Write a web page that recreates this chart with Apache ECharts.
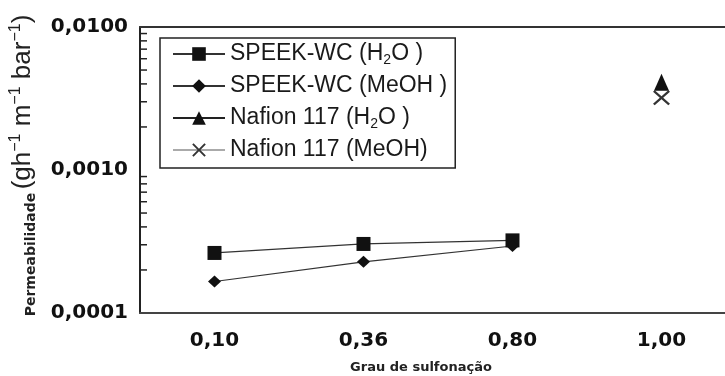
<!DOCTYPE html>
<html>
<head>
<meta charset="utf-8">
<script src="https://cdn.jsdelivr.net/npm/echarts@6/dist/echarts.min.js"></script>
<style>
  html, body { margin: 0; padding: 0; background: #fff; }
  #chart { width: 725px; height: 376px; }
</style>
</head>
<body>
<div id="chart"></div>
<script>
const categories = ["0,10", "0,36", "0,80", "1,00"];
const speekH2O = [2.63e-4, 3.04e-4, 3.22e-4, null];
const speekMeOH = [1.66e-4, 2.28e-4, 2.94e-4, null];
const nafionH2O = [null, null, null, 4.1e-3];
const nafionMeOH = [null, null, null, 3.2e-3];
const seriesNames = ["SPEEK-WC (H2O )", "SPEEK-WC (MeOH )", "Nafion 117 (H2O )", "Nafion 117 (MeOH)"];
const minorTicks = [2e-4, 3e-4, 4e-4, 5e-4, 6e-4, 7e-4, 8e-4, 9e-4, 2e-3, 3e-3, 4e-3, 5e-3, 6e-3, 7e-3, 8e-3, 9e-3];

const crossPath = "path://M0,1L1,0L5,4L9,0L10,1L6,5L10,9L9,10L5,6L1,10L0,9L4,5Z";

const chart = echarts.init(document.getElementById("chart"), undefined, { renderer: "canvas" });
chart.setOption({
  animation: false,
  grid: { left: 140, right: -11, top: 27, bottom: 63, containLabel: false, outerBoundsMode: "none" },
  legend: {
    data: seriesNames,
    orient: "vertical",
    left: 160,
    top: 38,
    itemWidth: 52,
    itemHeight: 17,
    itemGap: 6,
    padding: [3, 8, 5, 12],
    borderColor: "#222",
    borderWidth: 1.5,
    selectedMode: false,
    textStyle: {
      fontFamily: "Liberation Sans",
      fontSize: 23,
      color: "#1a1a1a",
      lineHeight: 26,
      rich: {
        s: { fontFamily: "Liberation Sans", fontSize: 14, lineHeight: 14, verticalAlign: "bottom", color: "#1a1a1a" },
      },
    },
    formatter: (name) => name.replace("H2O", "H{s|2}O"),
  },
  xAxis: [
    {
      type: "category",
      data: categories,
      boundaryGap: true,
      name: "Grau de sulfonação",
      nameLocation: "middle",
      nameGap: 48,
      nameTextStyle: { fontFamily: "DejaVu Sans", fontWeight: "bold", fontSize: 13, color: "#222", padding: [0, 34, 0, 0] },
      axisLine: { lineStyle: { color: "#444", width: 2 } },
      axisTick: { length: 9, lineStyle: { color: "#333", width: 1.5 } },
      axisLabel: { margin: 18, fontFamily: "DejaVu Sans", fontWeight: "bold", fontSize: 20, color: "#111" },
      splitLine: { show: false },
    },
    {
      type: "category",
      data: categories,
      position: "top",
      axisLine: { lineStyle: { color: "#333", width: 2 } },
      axisTick: { show: false },
      axisLabel: { show: false },
    },
  ],
  yAxis: {
    type: "log",
    logBase: 10,
    min: 0.0001,
    max: 0.01,
    name: "{b|Permeabilidade} {u|(gh}{sup|−1}{u| m}{sup|−1}{u| bar}{sup|−1}{u|)}",
    nameLocation: "middle",
    nameRotate: 90,
    nameGap: 102,
    nameTextStyle: {
      padding: [0, 0, 0, 9],
      rich: {
        b: { fontFamily: "DejaVu Sans", fontWeight: "bold", fontSize: 14, color: "#222", lineHeight: 14, verticalAlign: "bottom" },
        u: { fontFamily: "Liberation Sans", fontSize: 26, color: "#222", lineHeight: 30 },
        sup: { fontFamily: "Liberation Sans", fontSize: 16, color: "#222", lineHeight: 16, verticalAlign: "top" },
      },
    },
    axisLine: { show: true, lineStyle: { color: "#222", width: 2 } },
    axisTick: { length: 7, lineStyle: { color: "#222", width: 1.5 } },
    axisLabel: {
      margin: 12,
      fontFamily: "DejaVu Sans",
      fontWeight: "bold",
      fontSize: 20,
      color: "#111",
      formatter: (v) => v.toFixed(4).replace(".", ","),
    },
    splitLine: { show: false },
  },
  series: [
    {
      type: "custom",
      silent: true,
      data: minorTicks.map((v) => [0, v]),
      encode: { x: 0, y: 1 },
      renderItem: (params, api) => {
        const y = api.coord([0, api.value(1)])[1];
        const x = params.coordSys.x;
        return {
          type: "line",
          shape: { x1: x, y1: y, x2: x + 7, y2: y },
          style: { stroke: "#222", lineWidth: 1.5 },
        };
      },
    },
    {
      name: seriesNames[0],
      type: "line",
      data: speekH2O,
      symbol: "rect",
      symbolSize: 14,
      itemStyle: { color: "#111" },
      lineStyle: { color: "#333", width: 1.2 },
      z: 3,
    },
    {
      name: seriesNames[1],
      type: "line",
      data: speekMeOH,
      symbol: "diamond",
      symbolSize: [13, 12],
      itemStyle: { color: "#111" },
      lineStyle: { color: "#333", width: 1.2 },
      z: 3,
    },
    {
      name: seriesNames[3],
      type: "line",
      data: nafionMeOH,
      symbol: crossPath,
      symbolSize: [17, 15],
      itemStyle: { color: "#333" },
      lineStyle: { color: "#aaa", width: 1.5 },
      z: 2,
    },
    {
      name: seriesNames[2],
      type: "line",
      data: nafionH2O,
      symbol: "triangle",
      symbolSize: [15, 17],
      itemStyle: { color: "#111" },
      lineStyle: { color: "#222", width: 1.5 },
      z: 3,
    },
  ],
});
</script>
</body>
</html>
